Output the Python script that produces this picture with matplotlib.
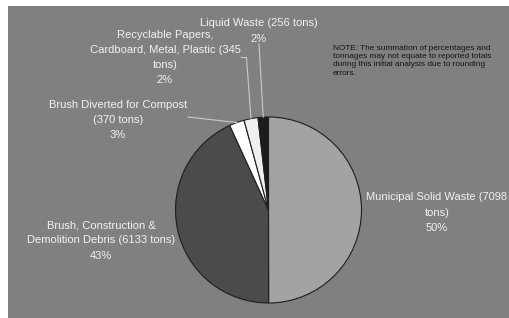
import numpy as np
import matplotlib
matplotlib.use("Agg")
import matplotlib.pyplot as plt
from matplotlib.patches import Rectangle

categories = ["Municipal Solid Waste", "Brush, Construction & Demolition Debris",
              "Brush Diverted for Compost", "Recyclable Papers, Cardboard, Metal, Plastic",
              "Liquid Waste"]
tons = [7098, 6133, 370, 345, 256]
pct_labels = ["50%", "43%", "3%", "2%", "2%"]
label_lines = [
    ["Municipal Solid Waste (7098", "tons)", "50%"],
    ["Brush, Construction &", "Demolition Debris (6133 tons)", "43%"],
    ["Brush Diverted for Compost", "(370 tons)", "3%"],
    ["Recyclable Papers,", "Cardboard, Metal, Plastic (345", "tons)", "2%"],
    ["Liquid Waste (256 tons)", "2%"],
]
colors = ["#a3a3a3", "#4b4b4b", "#ffffff", "#efefef", "#1c1c1c"]
note = ("NOTE: The summation of percentages and\n"
        "tonnages may not equate to reported totals\n"
        "during this initial analysis due to rounding\n"
        "errors.")

W, H = 509, 318
fig = plt.figure(figsize=(W / 100, H / 100), dpi=100, facecolor="white")
ax = fig.add_axes([0, 0, 1, 1])

# grey background
ax.add_patch(Rectangle((8, 0), W - 8, H - 6, facecolor="#808080", edgecolor="none", zorder=0))

cx, cy, r = 268.5, H - 210, 93
wedges, _ = ax.pie(tons, colors=colors, startangle=90, counterclock=False,
                   center=(cx, cy), radius=r, frame=True,
                   wedgeprops=dict(edgecolor="#1e1e1e", linewidth=0.8))
ax.set_xlim(0, W)
ax.set_ylim(0, H)
ax.set_aspect("auto")
ax.axis("off")

fs = 8.0
tc = "#f2f2f2"
lc = "#c8c8c8"
# label anchors: (center x, first-line baseline y from top), line step
pos = [(437, 200.5), (101, 228), (118, 107.5), (165, 37.5), (259, 26.5)]
step = 15.3
for lines, (x, y0) in zip(label_lines, pos):
    for i, line in enumerate(lines):
        ax.text(x, H - (y0 + i * step), line, ha="center", va="baseline", color=tc,
                fontsize=fs, family="Liberation Sans")

def edge_pt(w, frac=1.0):
    ang = np.deg2rad((w.theta1 + w.theta2) / 2)
    return cx + r * frac * np.cos(ang), cy + r * frac * np.sin(ang)

# Liquid waste
x1, y1 = edge_pt(wedges[4])
ax.plot([259, x1], [H - 44, y1], color=lc, lw=0.8, zorder=5)
# Recyclable
x1, y1 = edge_pt(wedges[3])
ax.plot([241, 246.5, x1], [H - 57.5, H - 57.5, y1], color=lc, lw=0.8, zorder=5)
# Compost
x1, y1 = edge_pt(wedges[2])
ax.plot([188, x1], [H - 117, y1], color=lc, lw=0.8, zorder=5)

ax.text(333, H - 44.5, note, ha="left", va="top", color="#141414", fontsize=5.95,
        family="Liberation Sans", linespacing=1.3)

fig.savefig("out.png", dpi=100, facecolor="white")
